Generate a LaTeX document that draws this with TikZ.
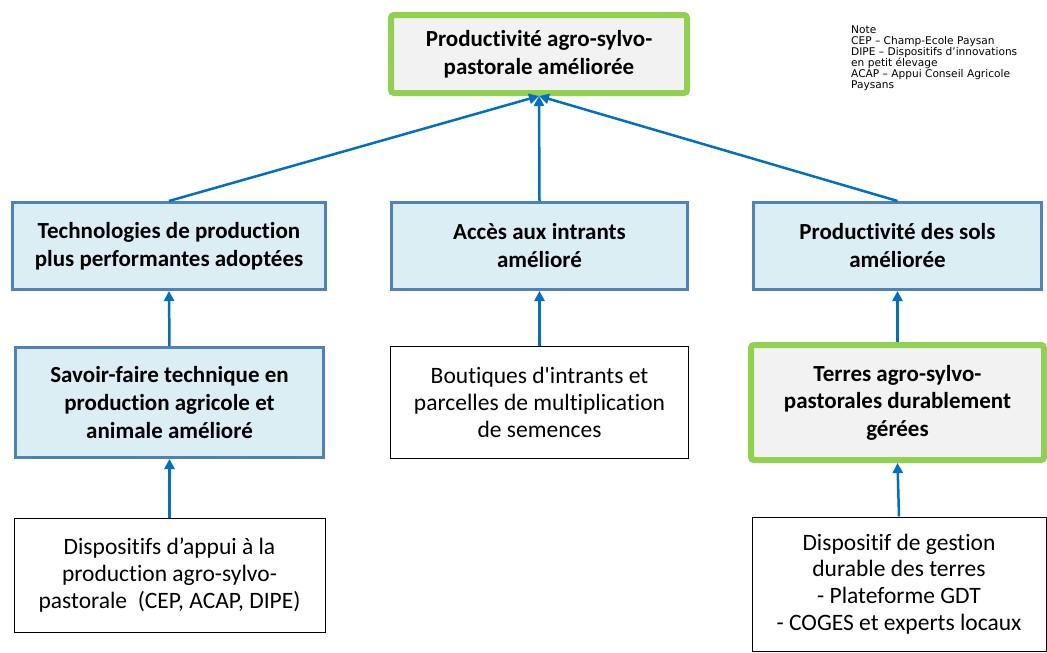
\documentclass[tikz,border=0pt]{standalone}
\usepackage{fontspec}
\setmainfont{Carlito}[Ligatures={TeXOff,NoCommon}]
\newfontfamily\notefont{DejaVu Sans}[Ligatures={TeXOff,NoCommon}]
\usetikzlibrary{arrows.meta}
\definecolor{goalgreen}{HTML}{92D050}
\definecolor{goalfill}{HTML}{F2F2F2}
\definecolor{outblue}{HTML}{4F81BD}
\definecolor{outfill}{HTML}{DBEEF4}
\definecolor{linkblue}{HTML}{0070C0}
\tikzset{
  box/.style={rectangle, align=center, inner sep=2pt, anchor=center},
  goalbox/.style={box, draw=goalgreen, line width=6pt, fill=goalfill, rounded corners=3pt,
    font=\fontsize{23}{27.5}\selectfont\bfseries},
  outbox/.style={box, draw=outblue, line width=3pt, fill=outfill,
    font=\fontsize{23}{28}\selectfont\bfseries},
  meansbox/.style={box, draw=black, line width=1pt, fill=white,
    font=\fontsize{23.5}{26.8}\selectfont},
  link/.style={draw=linkblue, line width=2.5pt, -{Triangle[length=10pt,width=10pt]}}
}
\begin{document}
\begin{tikzpicture}[x=1pt,y=-1pt]
\useasboundingbox (0,0) rectangle (1047,653);

% impact
\node[goalbox, minimum width=296, minimum height=78] (top) at (539,54)
  {Productivité agro-sylvo-\\pastorale améliorée};

% outcomes
\node[outbox, minimum width=313, minimum height=87] (tech) at (169,246)
  {Technologies de production\\plus performantes adoptées};
\node[outbox, minimum width=296, minimum height=87] (acces) at (539.5,246)
  {Accès aux intrants\\amélioré};
\node[outbox, minimum width=288, minimum height=87] (sols) at (897.5,246)
  {Productivité des sols\\améliorée};

% intermediate results
\node[outbox, minimum width=308, minimum height=110] (savoir) at (169.5,402.5)
  {Savoir-faire technique en\\production agricole et\\animale amélioré};
\node[meansbox, minimum width=298, minimum height=112] (boutiques) at (539.5,402.5)
  {Boutiques d'intrants et\\parcelles de multiplication\\de semences};
\node[goalbox, minimum width=293, minimum height=115] (terres) at (897.5,402.5)
  {Terres agro-sylvo-\\pastorales durablement\\gérées};

% means
\node[meansbox, minimum width=311, minimum height=114] (appui) at (169.5,575)
  {Dispositifs d’appui à la\\production agro-sylvo-\\pastorale\ \ (CEP, ACAP, DIPE)};
\node[meansbox, minimum width=294, minimum height=134] (gdt) at (899,584)
  {Dispositif de gestion\\durable des terres\\- Plateforme GDT\\- COGES et experts locaux};

% note
\node[anchor=north west, align=left, inner sep=0pt,
  font=\notefont\fontsize{10.6}{11}\selectfont] (note) at (851,26)
  {Note\\CEP – Champ-Ecole Paysan\\DIPE – Dispositifs d’innovations\\en petit élevage\\ACAP – Appui Conseil Agricole\\Paysans};

% links
\draw[link] (tech.north) -- (top.south);
\draw[link] (acces.north) -- (top.south);
\draw[link] (sols.north) -- (top.south);
\draw[link] (savoir.north) -- (tech.south);
\draw[link] (boutiques.north) -- (acces.south);
\draw[link] (terres.north) -- (sols.south);
\draw[link] (appui.north) -- (savoir.south);
\draw[link] (gdt.north) -- (terres.south);
\end{tikzpicture}
\end{document}
